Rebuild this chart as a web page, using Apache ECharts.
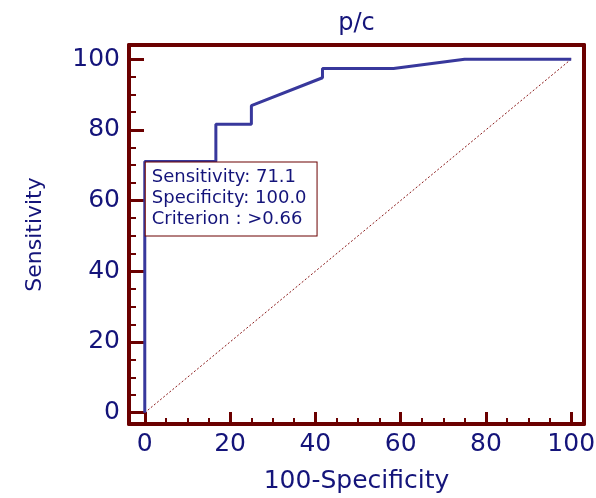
<!DOCTYPE html>
<html>
<head>
<meta charset="utf-8">
<script src="https://cdn.jsdelivr.net/npm/echarts@6/dist/echarts.min.js"></script>
<style>html,body{margin:0;padding:0;background:#fff;}#c{width:596px;height:498px;}</style>
</head>
<body>
<div id="c"></div>
<script>
// ROC curve points (100-Specificity, Sensitivity)
const fpr = [0, 0, 16.67, 16.67, 25, 25, 41.67, 41.67, 58.33, 75, 100];
const tpr = [0, 71.05, 71.05, 81.58, 81.58, 86.84, 94.74, 97.37, 97.37, 100, 100];
// reference diagonal
const diagX = [0, 100];
const diagY = [0, 100];
// criterion point and its annotation
const critPoint = [0, 71.05];
const critLines = ['Sensitivity: 71.1', 'Specificity: 100.0', 'Criterion : >0.66'];
// ticks
const majorTicks = [0, 20, 40, 60, 80, 100];
const minorTicks = [5, 10, 15, 25, 30, 35, 45, 50, 55, 65, 70, 75, 85, 90, 95];
const titleText = 'p/c';
const xName = '100-Specificity';
const yName = 'Sensitivity';

const AX = '#6b0000';
const TX = '#14147a';
const FONT = 'DejaVu Sans';
const XMIN = -3.7, XMAX = 103, YMIN = -3.2, YMAX = 104;

const chart = echarts.init(document.getElementById('c'), null, {renderer: 'canvas'});
const noLine = {show: false, onZero: false};
chart.setOption({
  animation: false,
  backgroundColor: '#fff',
  grid: {left: 129, right: 12, top: 45, bottom: 74, outerBoundsMode: 'none', containLabel: false},
  xAxis: [
    {type: 'value', position: 'bottom', min: XMIN, max: XMAX,
     name: xName, nameLocation: 'middle', nameGap: 45,
     nameTextStyle: {color: TX, fontSize: 25, fontFamily: FONT},
     axisLine: {show: true, onZero: false, lineStyle: {color: AX, width: 4}},
     axisTick: {show: true, inside: true, length: 12, customValues: majorTicks, lineStyle: {color: AX, width: 3}},
     axisLabel: {show: true, customValues: majorTicks, margin: 8, color: TX, fontSize: 25, fontFamily: FONT},
     splitLine: {show: false}},
    {type: 'value', position: 'bottom', min: XMIN, max: XMAX,
     axisLine: noLine,
     axisTick: {show: true, inside: true, length: 6, customValues: minorTicks, lineStyle: {color: AX, width: 2}},
     axisLabel: {show: false}, splitLine: {show: false}},
    {type: 'value', position: 'top', min: XMIN, max: XMAX,
     name: titleText, nameLocation: 'middle', nameGap: 9,
     nameTextStyle: {color: TX, fontSize: 24, fontFamily: FONT, verticalAlign: 'bottom'},
     axisLine: {show: true, onZero: false, lineStyle: {color: AX, width: 4}},
     axisTick: {show: false}, axisLabel: {show: false}, splitLine: {show: false}}
  ],
  yAxis: [
    {type: 'value', position: 'left', min: YMIN, max: YMAX,
     name: yName, nameLocation: 'middle', nameGap: 83, nameRotate: 90,
     nameTextStyle: {color: TX, fontSize: 22, fontFamily: FONT},
     axisLine: {show: true, onZero: false, lineStyle: {color: AX, width: 4}},
     axisTick: {show: true, inside: true, length: 15, customValues: majorTicks, lineStyle: {color: AX, width: 3}},
     axisLabel: {show: true, customValues: majorTicks, margin: 9, color: TX, fontSize: 25, fontFamily: FONT},
     splitLine: {show: false}},
    {type: 'value', position: 'left', min: YMIN, max: YMAX,
     axisLine: noLine,
     axisTick: {show: true, inside: true, length: 7, customValues: minorTicks, lineStyle: {color: AX, width: 2}},
     axisLabel: {show: false}, splitLine: {show: false}},
    {type: 'value', position: 'right', min: YMIN, max: YMAX,
     axisLine: {show: true, onZero: false, lineStyle: {color: AX, width: 4}},
     axisTick: {show: false}, axisLabel: {show: false}, splitLine: {show: false}}
  ],
  series: [
    {type: 'line', xAxisIndex: 0, yAxisIndex: 0, silent: true, symbol: 'none',
     data: diagX.map((x, i) => [x, diagY[i]]),
     lineStyle: {color: '#8b1a1a', width: 1, type: [2, 2]}, z: 2},
    {type: 'line', xAxisIndex: 0, yAxisIndex: 0, silent: true, symbol: 'none',
     data: fpr.map((x, i) => [x, tpr[i]]),
     lineStyle: {color: '#38389c', width: 3}, z: 3},
    {type: 'scatter', xAxisIndex: 0, yAxisIndex: 0, silent: true, symbolSize: 0,
     data: [critPoint], z: 5,
     itemStyle: {opacity: 1, color: 'rgba(0,0,0,0)'},
     label: {show: true, position: [1, 1], align: 'left', verticalAlign: 'top',
       formatter: critLines.join('\n'), opacity: 1,
       color: TX, fontSize: 18, fontFamily: FONT, lineHeight: 21,
       backgroundColor: '#fff', borderColor: '#6b0000', borderWidth: 1,
       padding: [4, 10, 6, 6]}}
  ]
});
</script>
</body>
</html>
